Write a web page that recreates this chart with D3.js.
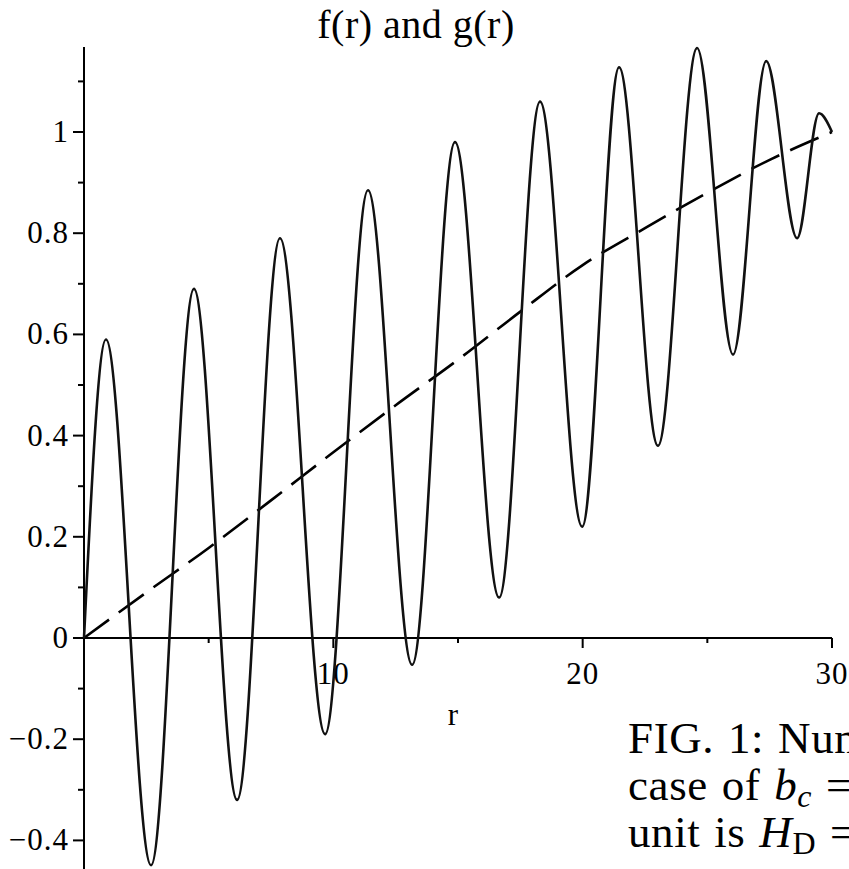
<!DOCTYPE html>
<html>
<head>
<meta charset="utf-8">
<script src="https://cdn.jsdelivr.net/npm/d3@7"></script>
<style>
  body { margin: 0; background: #fff; }
  svg { display: block; }
  text { font-family: "Liberation Serif", "Times New Roman", serif; fill: #000; }
</style>
</head>
<body>
<svg id="chart" width="849" height="869"></svg>
<script>
// oscillating curve f(r): start, peaks/troughs, end
var fR = [0, 0.88, 2.69, 4.41, 6.14, 7.86, 9.67, 11.39, 13.16, 14.88, 16.65,
          18.29, 19.98, 21.46, 23.02, 24.59, 26.03, 27.36, 28.6, 29.48, 30];
var fVal = [0, 0.59, -0.449, 0.69, -0.32, 0.79, -0.19, 0.885, -0.053, 0.98, 0.08,
            1.06, 0.22, 1.128, 0.38, 1.166, 0.56, 1.14, 0.79, 1.037, 1.0];

// dashed curve g(r)
var gR = [0, 2.5, 5, 7.5, 10, 12.5, 15, 17.5, 20, 22.5, 25, 27.5, 30];
var gVal = [0, 0.09, 0.178, 0.272, 0.367, 0.46, 0.55, 0.645, 0.737, 0.81, 0.88, 0.945, 1.0];

var xMajor = [10, 20, 30];
var xMinor = [5, 15, 25];
var yMajor = [-0.4, -0.2, 0, 0.2, 0.4, 0.6, 0.8, 1];
var yMinor = [-0.3, -0.1, 0.1, 0.3, 0.5, 0.7, 0.9, 1.1];

var svg = d3.select('#chart');

var x = d3.scaleLinear().domain([0, 30]).range([84, 832]);
var y = d3.scaleLinear().domain([0, 1]).range([638, 132]);

// title
svg.append('text')
    .attr('x', 416)
    .attr('y', 38)
    .attr('text-anchor', 'middle')
    .attr('font-size', 40)
    .attr('letter-spacing', 0.5)
    .text('f(r) and g(r)');

// axes
svg.append('line')
    .attr('x1', x(0)).attr('x2', x(0))
    .attr('y1', y(1.168)).attr('y2', 869)
    .attr('stroke', '#000').attr('stroke-width', 2);

svg.append('line')
    .attr('x1', x(0)).attr('x2', x(30))
    .attr('y1', y(0)).attr('y2', y(0))
    .attr('stroke', '#000').attr('stroke-width', 2);

svg.selectAll('.ymaj')
    .data(yMajor)
    .enter()
    .append('line')
    .attr('class', 'ymaj')
    .attr('x1', x(0) - 11).attr('x2', x(0))
    .attr('y1', function(d) { return y(d); })
    .attr('y2', function(d) { return y(d); })
    .attr('stroke', '#000').attr('stroke-width', 2);

svg.selectAll('.ymin')
    .data(yMinor)
    .enter()
    .append('line')
    .attr('class', 'ymin')
    .attr('x1', x(0) - 6).attr('x2', x(0))
    .attr('y1', function(d) { return y(d); })
    .attr('y2', function(d) { return y(d); })
    .attr('stroke', '#000').attr('stroke-width', 2);

svg.selectAll('.ylab')
    .data(yMajor)
    .enter()
    .append('text')
    .attr('class', 'ylab')
    .attr('x', 69)
    .attr('y', function(d) { return y(d) + 10; })
    .attr('text-anchor', 'end')
    .attr('font-size', 31)
    .attr('letter-spacing', 1)
    .text(function(d) { return d < 0 ? '\u2212' + String(-d) : String(d); });

svg.selectAll('.xmaj')
    .data(xMajor)
    .enter()
    .append('line')
    .attr('class', 'xmaj')
    .attr('x1', function(d) { return x(d); })
    .attr('x2', function(d) { return x(d); })
    .attr('y1', y(0)).attr('y2', y(0) + 10)
    .attr('stroke', '#000').attr('stroke-width', 2);

svg.selectAll('.xmin')
    .data(xMinor)
    .enter()
    .append('line')
    .attr('class', 'xmin')
    .attr('x1', function(d) { return x(d); })
    .attr('x2', function(d) { return x(d); })
    .attr('y1', y(0)).attr('y2', y(0) + 5)
    .attr('stroke', '#000').attr('stroke-width', 2);

svg.selectAll('.xlab')
    .data(xMajor)
    .enter()
    .append('text')
    .attr('class', 'xlab')
    .attr('x', function(d) { return x(d); })
    .attr('y', 684)
    .attr('text-anchor', 'middle')
    .attr('font-size', 31)
    .attr('letter-spacing', 1)
    .text(function(d) { return d; });

svg.append('text')
    .attr('x', 453)
    .attr('y', 725)
    .attr('text-anchor', 'middle')
    .attr('font-size', 31)
    .text('r');

// curves
var line = d3.line()
    .x(function(d) { return x(d[0]); })
    .y(function(d) { return y(d[1]); })
    .curve(d3.curveMonotoneX);

svg.append('path')
    .datum(d3.zip(gR, gVal))
    .attr('d', line)
    .attr('fill', 'none')
    .attr('stroke', '#000')
    .attr('stroke-width', 2.6)
    .attr('stroke-dasharray', '31,12');

svg.append('path')
    .datum(d3.zip(fR, fVal))
    .attr('d', line)
    .attr('fill', 'none')
    .attr('stroke', '#111')
    .attr('stroke-width', 2.6);

// caption fragment (the page cuts it off at the right edge, as in the figure)
var cap = svg.append('g')
    .attr('font-size', 45)
    .attr('letter-spacing', 0.6)
    .attr('word-spacing', 2);
cap.append('text').attr('x', 628).attr('y', 753).text('FIG. 1: Num');
var l2 = cap.append('text').attr('x', 628).attr('y', 800);
l2.append('tspan').text('case of ');
l2.append('tspan').attr('font-style', 'italic').text('b');
l2.append('tspan').attr('font-style', 'italic').attr('font-size', 32).attr('dy', 7).text('c');
l2.append('tspan').attr('dy', -7).text(' =');
var l3 = cap.append('text').attr('x', 628).attr('y', 847);
l3.append('tspan').text('unit is ');
l3.append('tspan').attr('font-style', 'italic').text('H');
l3.append('tspan').attr('font-size', 32).attr('dy', 7).text('D');
l3.append('tspan').attr('dy', -7).text(' =');
</script>
</body>
</html>
